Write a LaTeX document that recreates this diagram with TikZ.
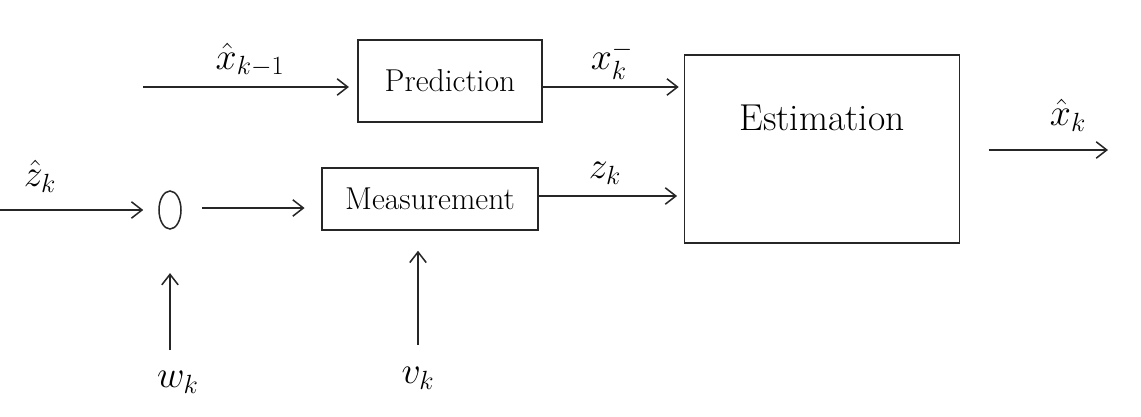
\documentclass[tikz,border=0pt]{standalone}
\usepackage{graphicx}
\usetikzlibrary{arrows.meta,shapes.geometric}
\newcommand{\biglbl}[1]{\scalebox{1.3}{\fontsize{24}{28}\selectfont$#1$}}
\begin{document}
\begin{tikzpicture}[x=0.03cm,y=-0.03cm,
  ink/.style={draw=black!85, line width=1.3pt},
  blk/.style={ink, rectangle, inner sep=0pt, font=\fontsize{27}{30}\selectfont},
  arr/.style={ink, -{Straight Barb[length=9pt,width=14pt]}},
  lbl/.style={inner sep=0pt}]
\useasboundingbox[fill=white] (0,0) rectangle (1141,416);
% blocks
\node[blk, minimum width=184*0.03cm, minimum height=82*0.03cm] (pred) at (450,81) {Prediction};
\node[blk, minimum width=216*0.03cm, minimum height=62*0.03cm] (meas) at (430,199) {Measurement};
\node[blk, minimum width=275*0.03cm, minimum height=188*0.03cm] (est) at (822,149) {};
\node[font=\fontsize{32}{36}\selectfont] (esttext) at (822,118) {Estimation};
\node[ink, ellipse, minimum width=22*0.03cm, minimum height=38*0.03cm, inner sep=0pt] (sum) at (170,210) {};
% free ends
\coordinate (xin) at (143,87);
\coordinate (zin) at (0,210);
\coordinate (xout) at (1108,150);
\coordinate (win) at (170,350);
\coordinate (vin) at (418,345);
% connectors
\draw[arr] (xin) -- ([xshift=-0.25cm]pred.west |- xin);
\draw[arr] (pred.east |- 0,87) -- ([xshift=-0.15cm]est.west |- 0,87);
\draw[arr] (zin) -- ([xshift=-0.45cm]sum.west);
\draw[arr] ([xshift=0.6cm]sum.east |- 0,208) -- ([xshift=-0.5cm]meas.west |- 0,208);
\draw[arr] (meas.east |- 0,196) -- ([xshift=-0.2cm]est.west |- 0,196);
\draw[arr] ([xshift=0.85cm]est.east |- xout) -- (xout);
\draw[arr] (win) -- ([yshift=-1.3cm]sum.south -| win);
\draw[arr] (vin) -- ([yshift=-0.6cm]meas.south -| vin);
% labels
\node[lbl] (lx) at (250,60) {\biglbl{\hat{x}_{k-1}}};
\node[lbl] (lxm) at (612,60) {\biglbl{x^{-}_{k}}};
\node[lbl] (lz) at (605,173) {\biglbl{z_k}};
\node[lbl] (lzh) at (40,176) {\biglbl{\hat{z}_k}};
\node[lbl] (lxh) at (1068,115) {\biglbl{\hat{x}_k}};
\node[lbl] (lw) at (178,382) {\biglbl{w_k}};
\node[lbl] (lv) at (418,378) {\biglbl{v_k}};
\end{tikzpicture}
\end{document}
